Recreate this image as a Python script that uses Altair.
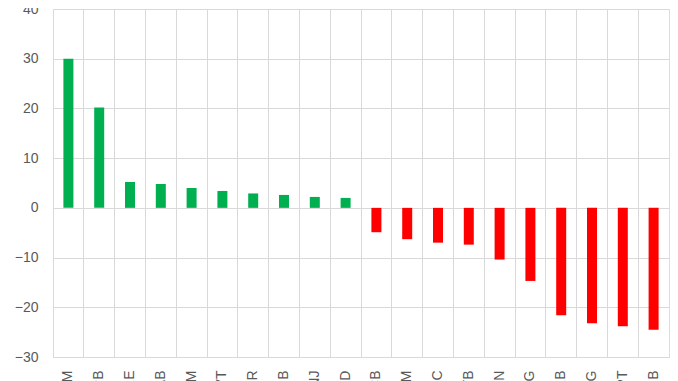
import altair as alt
import pandas as pd

categories = ["NM", "PB", "RE", "AB", "VM", "VT", "SR", "IB", "NJ", "D",
              "CB", "GM", "IC", "TB", "N", "G", "RB", "MG", "PT", "MB"]
values = [30.0, 20.2, 5.2, 4.8, 4.0, 3.4, 2.9, 2.6, 2.2, 2.0,
          -4.9, -6.3, -7.0, -7.4, -10.4, -14.7, -21.6, -23.2, -23.8, -24.5]

df = pd.DataFrame({"cat": categories, "val": values})
df["color"] = ["#00B050" if v >= 0 else "#FF0000" for v in values]

W, H = 616, 348

bars = alt.Chart(df).mark_bar(size=10).encode(
    x=alt.X("cat:N", sort=None, title=None,
            scale=alt.Scale(paddingInner=0, paddingOuter=0),
            axis=alt.Axis(labelAngle=-90, bandPosition=0, grid=True,
                          gridColor="#D9D9D9", ticks=False, domain=False,
                          labelPadding=13, labelFontSize=14,
                          labelColor="#595959", labelFont="Liberation Sans")),
    y=alt.Y("val:Q", title=None,
            scale=alt.Scale(domain=[-30, 40], nice=False, zero=False),
            axis=alt.Axis(values=list(range(-30, 41, 10)), grid=True,
                          gridColor="#D9D9D9", ticks=False, domain=False,
                          labelPadding=15, labelFontSize=14,
                          labelColor="#595959", labelFont="Liberation Sans")),
    color=alt.Color("color:N", scale=None, legend=None),
)

chart = bars.properties(
    width=W, height=H,
    autosize=alt.AutoSizeParams(type="none"),
    padding={"left": 45, "top": 1, "right": 1, "bottom": 24},
).configure_view(stroke="#D9D9D9", strokeWidth=1).configure(background="white")

chart.save("out.html", embed_options={"renderer": "svg", "actions": False})
